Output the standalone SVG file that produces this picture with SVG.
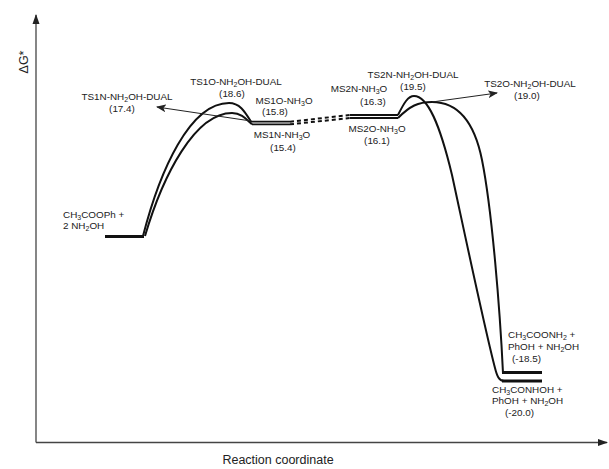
<svg xmlns="http://www.w3.org/2000/svg" width="609" height="469" viewBox="0 0 609 469">
<style>
text{font-family:"Liberation Sans",Arial,sans-serif;font-size:9.9px;fill:#222}
.c{text-anchor:middle}
.ax{font-size:12.5px}
.axis{stroke:#444;stroke-width:1.3;fill:none}
.curve{stroke:#111;stroke-width:2;fill:none}
.lvl{stroke:#111;stroke-width:3;fill:none}
.lvl2{stroke:#111;stroke-width:1.8;fill:none}
.dash{stroke:#111;stroke-width:2;fill:none;stroke-dasharray:4 3}
.thin{stroke:#222;stroke-width:1;fill:none}
</style>
<defs>
<marker id="ah" markerWidth="10" markerHeight="8" refX="9" refY="4" orient="auto" markerUnits="userSpaceOnUse">
<path d="M0,0 L10,4 L0,8 L2.5,4 Z" fill="#222"/>
</marker>
<marker id="axh" markerWidth="10" markerHeight="8" refX="9" refY="4" orient="auto" markerUnits="userSpaceOnUse">
<path d="M0,0.5 L10,4 L0,7.5 Z" fill="#222"/>
</marker>
</defs>

<g id="axes">
<path class="axis" d="M36,442.5 L36,15" marker-end="url(#axh)"/>
<path class="axis" d="M36,442.5 L607,442.5" marker-end="url(#axh)"/>
<text class="ax" x="28" y="62" text-anchor="middle" transform="rotate(-90 28 62)">ΔG*</text>
<text class="ax c" x="278" y="464">Reaction coordinate</text>
</g>

<g id="connectors">
<path class="curve" d="M143,236 C160,170 190,103 229,103 C240,103 245,112 251,121.7"/>
<path class="curve" d="M145,236 C163,175 195,113 232,113 C242,113 247,120 252,124.3"/>
<path class="dash" d="M290,121.7 L350,115"/>
<path class="dash" d="M290,124.3 L350,118"/>
<path class="curve" d="M398,115 C404,103 408,96 414,96 C428,96 440,125 452,175 C465,235 485,330 495,368 C497,376 499,381 504,381"/>
<path class="curve" d="M398,118 C410,106 418,102 432,102 C460,102 475,125 482,160 C492,210 500,310 503,373"/>
<path class="thin" d="M251,121 L157,107" marker-end="url(#ah)"/>
<path class="thin" d="M432,102 L497,93" marker-end="url(#ah)"/>
</g>

<g id="reactant">
<path class="lvl" d="M105,236.5 L144,236.5"/>
<text x="63" y="218">CH<tspan font-size="7" dy="2">3</tspan><tspan dy="-2">COOPh +</tspan></text>
<text x="63" y="229">2 NH<tspan font-size="7" dy="2">2</tspan><tspan dy="-2">OH</tspan></text>
</g>

<g id="TS1N">
<text class="c" x="127" y="100">TS1N-NH<tspan font-size="7" dy="2">2</tspan><tspan dy="-2">OH-DUAL</tspan></text>
<text class="c" x="122" y="112">(17.4)</text>
</g>

<g id="TS1O">
<text class="c" x="236" y="85">TS1O-NH<tspan font-size="7" dy="2">2</tspan><tspan dy="-2">OH-DUAL</tspan></text>
<text class="c" x="232" y="97">(18.6)</text>
</g>

<g id="MS1O">
<path class="lvl2" d="M251,121.7 L290,121.7"/>
<text class="c" x="284" y="104">MS1O-NH<tspan font-size="7" dy="2">3</tspan><tspan dy="-2">O</tspan></text>
<text class="c" x="275" y="115">(15.8)</text>
</g>

<g id="MS1N">
<path class="lvl2" d="M252,124.3 L290,124.3"/>
<text class="c" x="282" y="138">MS1N-NH<tspan font-size="7" dy="2">3</tspan><tspan dy="-2">O</tspan></text>
<text class="c" x="283" y="151">(15.4)</text>
</g>

<g id="MS2N">
<path class="lvl2" d="M350,115 L398,115"/>
<text class="c" x="359" y="92">MS2N-NH<tspan font-size="7" dy="2">3</tspan><tspan dy="-2">O</tspan></text>
<text class="c" x="373" y="105">(16.3)</text>
</g>

<g id="MS2O">
<path class="lvl2" d="M350,118 L398,118"/>
<text class="c" x="377" y="132">MS2O-NH<tspan font-size="7" dy="2">3</tspan><tspan dy="-2">O</tspan></text>
<text class="c" x="377" y="144">(16.1)</text>
</g>

<g id="TS2N">
<text class="c" x="413" y="78">TS2N-NH<tspan font-size="7" dy="2">2</tspan><tspan dy="-2">OH-DUAL</tspan></text>
<text class="c" x="413" y="90">(19.5)</text>
</g>

<g id="TS2O">
<text class="c" x="530" y="87">TS2O-NH<tspan font-size="7" dy="2">2</tspan><tspan dy="-2">OH-DUAL</tspan></text>
<text class="c" x="527" y="99">(19.0)</text>
</g>

<g id="P1">
<path class="lvl" d="M502,372.5 L542,372.5"/>
<text x="508" y="338">CH<tspan font-size="7" dy="2">3</tspan><tspan dy="-2">COONH</tspan><tspan font-size="7" dy="2">2</tspan><tspan dy="-2"> +</tspan></text>
<text x="508" y="350">PhOH + NH<tspan font-size="7" dy="2">2</tspan><tspan dy="-2">OH</tspan></text>
<text x="512" y="362">(-18.5)</text>
</g>

<g id="P2">
<path class="lvl" d="M502,381 L542,381"/>
<text x="492" y="393">CH<tspan font-size="7" dy="2">3</tspan><tspan dy="-2">CONHOH +</tspan></text>
<text x="492" y="404">PhOH + NH<tspan font-size="7" dy="2">2</tspan><tspan dy="-2">OH</tspan></text>
<text x="505" y="416">(-20.0)</text>
</g>
</svg>
